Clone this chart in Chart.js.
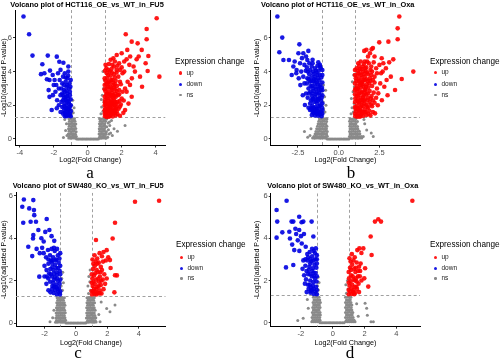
<!DOCTYPE html>
<html><head><meta charset="utf-8">
<script src="https://cdn.jsdelivr.net/npm/chart.js@4.4.1/dist/chart.umd.min.js"></script>
<style>
html,body{margin:0;padding:0;background:#fff;}
body{width:500px;height:360px;position:relative;overflow:hidden;font-family:"Liberation Sans",Arial,sans-serif;}
canvas{position:absolute;}
.ttl{position:absolute;font-weight:bold;font-size:7.4px;line-height:9px;white-space:nowrap;color:#000;}
.lgt{position:absolute;font-size:8.2px;line-height:10px;white-space:nowrap;color:#000;}
.lgi{position:absolute;font-size:6.5px;line-height:8px;white-space:nowrap;color:#222;}
.dot{position:absolute;border-radius:50%;}
.let{position:absolute;width:40px;text-align:center;font-family:"Liberation Serif","Times New Roman",serif;font-size:17px;line-height:17px;color:#000;}
</style></head><body>
<script>
// ---------------- data ----------------
const titles = ['Volcano plot of HCT116_OE_vs_WT_in_FU5','Volcano plot of HCT116_OE_vs_WT_in_Oxa','Volcano plot of SW480_KO_vs_WT_in_FU5','Volcano plot of SW480_KO_vs_WT_in_Oxa'];
const panelLetters = ['a','b','c','d'];
const groupNames = ['up','down','ns'];
const legendTitle = 'Expression change';
const xAxisTitle = 'Log2(Fold Change)';
const yAxisTitle = '-Log10(adjusted P-value)';
const fcCut = [-1, 1];
const pCut = 1.3;
const yTicks = [0, 2, 4, 6];
const xTicksA = [-4, -2, 0, 2, 4];
const xTickLabelsA = ['-4', '-2', '0', '2', '4'];
const xTicksB = [-2.5, 0, 2.5];
const xTickLabelsB = ['-2.5', '0.0', '2.5'];
const xTicksC = [-2, 0, 2, 4];
const xTickLabelsC = ['-2', '0', '2', '4'];
const xTicksD = [-2, 0, 2, 4];
const xTickLabelsD = ['-2', '0', '2', '4'];
const xRangeA = [-4.28, 4.58], yRangeA = [-0.39, 7.66];
const xRangeB = [-4.17, 4.99], yRangeB = [-0.40, 7.66];
const xRangeC = [-3.81, 5.70], yRangeC = [-0.17, 6.15];
const xRangeD = [-3.90, 5.48], yRangeD = [-0.19, 6.13];

// Panel a
const aUp = [[1.02,1.35],[1.08,1.42],[1.15,1.38],[1.22,1.5],[1.3,1.36],[1.38,1.45],[1.47,1.33],[1.55,1.52],[1.65,1.4],[1.75,1.48],[1.9,1.38],[1.05,1.58],[1.18,1.62],[1.32,1.6],[1.44,1.66],[2.1,1.55],
[1.03,1.8],[1.1,1.95],[1.2,1.78],[1.28,1.9],[1.36,1.75],[1.45,1.98],[1.52,1.82],[1.6,1.7],[1.7,1.92],[1.82,1.8],[1.95,2.05],[1.06,2.08],[1.24,2.02],[1.4,2.1],[1.58,2.0],
[1.02,2.3],[1.12,2.45],[1.2,2.25],[1.3,2.55],[1.38,2.35],[1.48,2.6],[1.55,2.3],[1.65,2.5],[1.75,2.2],[1.85,2.65],[2.0,2.4],[1.08,2.62],[1.26,2.68],[1.42,2.15],[1.62,2.7],
[1.04,2.85],[1.14,3.0],[1.22,2.78],[1.32,3.1],[1.4,2.9],[1.5,3.2],[1.6,2.95],[1.72,3.15],[1.85,2.9],[1.95,3.25],[1.1,3.25],[1.28,3.3],[1.45,2.75],[2.05,2.8],
[1.05,3.45],[1.15,3.6],[1.25,3.4],[1.35,3.75],[1.45,3.5],[1.55,3.85],[1.65,3.45],[1.8,3.7],[1.9,3.4],[2.05,3.9],[1.12,3.9],[1.3,4.0],[1.5,3.35],[1.7,3.95],
[1.1,4.2],[1.25,4.45],[1.4,4.15],[1.55,4.3],[1.7,4.1],[1.85,4.5],[2.0,4.25],[2.15,4.6],[1.35,4.7],[1.6,4.6],
[1.0,1.5],[1.12,1.3],[1.25,1.32],[1.4,1.55],[1.6,1.55],[1.7,1.65],[1.0,1.7],[1.14,1.72],[1.32,1.85],[1.5,1.68],[1.66,1.82],[1.0,2.0],[1.16,2.12],[1.34,2.0],[1.5,2.08],[1.7,2.1],[1.02,2.18],[1.18,2.4],[1.35,2.22],[1.5,2.45],[1.6,2.2],[1.0,2.5],[1.15,2.7],[1.36,2.6],[1.55,2.55],[1.7,2.85],[1.0,2.95],[1.2,3.1],[1.38,3.0],[1.55,3.05],[1.0,3.2],[1.18,3.35],[1.38,3.5],[1.6,3.25],[1.0,3.6],[1.2,3.8],[1.42,3.95],[1.6,3.65],[1.02,4.05],[1.2,4.1],[1.45,4.4],[1.75,4.35],[1.05,4.4],[1.9,4.1],[1.78,2.6],[1.88,2.25],
[4.06,7.17],[3.47,6.53],[2.24,6.22],[2.59,5.78],[2.94,5.68],[3.47,5.92],[3.18,5.29],[2.33,5.29],[4.22,3.7],[3.41,4.5],[3.53,4.04],[3.57,4.93],[2.88,4.73],[2.78,4.0],[3.08,3.7],[2.49,3.21],[2.29,2.81],[2.59,2.51],[2.12,2.28],[2.2,1.72],[1.9,1.92],[1.71,4.99],[2.0,5.09],[1.51,4.79],[2.29,4.73],[2.45,4.4],[2.6,3.6],[2.35,3.4],[2.7,4.3],[3.0,4.9],[2.5,4.9],[2.2,3.0],[2.4,2.1],[3.2,3.1],[2.15,4.0]];
const aDown = [[-3.78,7.27],[-3.45,6.22],[-3.25,4.95],[-2.35,4.95],[-2.67,4.44],[-2.75,3.85],[-2.55,3.9],[-2.4,3.55],[-2.25,3.5],[-2.22,4.06],[-2.06,3.8],[-1.82,4.89],[-1.67,4.59],[-1.43,4.53],[-1.14,4.3],[-1.14,4.0],[-2.25,2.5],[-2.12,1.72],[-1.82,1.82],[-2.3,2.9],[-2.0,3.2],[-1.9,2.8],[-1.95,3.5],[-1.75,3.9],[-1.6,4.1],[-1.5,3.3],[-1.7,3.0],[-1.6,2.6],[-1.55,2.2],[-1.45,3.7],[-1.35,3.9],[-1.3,3.4],[-1.25,3.1],[-1.4,2.9],[-1.2,2.7],[-1.3,2.5],[-1.15,2.4],[-1.45,2.3],[-1.35,2.1],[-1.25,2.0],[-1.1,2.1],[-1.5,1.9],[-1.4,1.7],[-1.3,1.8],[-1.2,1.6],[-1.1,1.8],[-1.05,1.5],[-1.15,1.4],[-1.3,1.45],[-1.45,1.5],[-1.6,1.6],[-1.7,2.0],[-1.8,2.3],[-1.2,3.6],[-1.1,3.0],[-1.05,2.6],[-1.35,2.8],[-1.55,3.0],[-1.65,3.5],[-1.85,3.2],[-2.05,2.6],[-1.25,1.35],[-1.05,1.9],[-1.1,1.4],[-1.35,1.55],[-1.22,2.25],[-1.08,3.3],[-1.4,2.45],
[-1.0,1.35],[-1.2,1.5],[-1.35,1.35],[-1.0,1.65],[-1.15,1.7],[-1.25,1.85],[-1.4,1.95],[-1.0,2.0],[-1.12,2.2],[-1.3,2.3],[-1.0,2.35],[-1.2,2.55],[-1.45,2.6],[-1.05,2.8],[-1.25,2.85],[-1.02,3.1],[-1.2,3.2],[-1.4,3.2],[-1.0,3.5],[-1.15,3.75],[-1.3,3.65],[-1.5,2.7]];
const aNs = [[-0.65,0],[-0.57,0],[-0.5,0],[-0.41,0],[-0.33,0],[-0.26,0],[-0.17,0],[-0.09,0],[-0.02,0],[0.07,0],[0.15,0],[0.22,0],[0.31,0],[0.38,0],[0.47,0],[0.55,0],[0.63,0],
[-1.12,0.05],[-1.01,0.04],[-0.9,0.06],[-0.8,0.05],[-0.7,0.04],[-1.08,0.16],[-0.97,0.15],[-0.86,0.17],[-0.76,0.15],[-0.67,0.14],[-1.14,0.3],[-1.03,0.29],[-0.93,0.31],[-0.83,0.3],[-0.72,0.28],[-1.1,0.45],[-0.99,0.44],[-0.88,0.46],[-0.78,0.45],[-0.68,0.43],[-1.13,0.6],[-1.02,0.59],[-0.91,0.61],[-0.8,0.6],[-0.7,0.62],[-1.09,0.75],[-0.97,0.74],[-0.87,0.76],[-0.76,0.75],[-1.12,0.9],[-1.01,0.89],[-0.9,0.91],[-0.79,0.9],[-0.7,0.88],[-1.08,1.05],[-0.96,1.04],[-0.85,1.06],[-0.75,1.05],[-1.1,1.2],[-0.99,1.19],[-0.88,1.21],[-0.78,1.2],[-0.98,1.45],[-0.85,1.55],[-0.93,1.7],[-0.8,1.85],[-0.95,2.0],[-0.88,2.3],
[0.68,0.05],[0.78,0.04],[0.88,0.06],[0.98,0.05],[1.08,0.04],[1.18,0.1],[0.72,0.16],[0.83,0.15],[0.93,0.17],[1.03,0.15],[0.67,0.3],[0.77,0.29],[0.87,0.31],[0.97,0.3],[1.08,0.28],[0.7,0.45],[0.8,0.44],[0.9,0.46],[1.0,0.45],[1.1,0.43],[1.22,0.55],[0.68,0.6],[0.78,0.59],[0.89,0.61],[0.99,0.6],[0.72,0.75],[0.82,0.74],[0.92,0.76],[1.02,0.75],[1.12,0.73],[0.69,0.9],[0.79,0.89],[0.9,0.91],[1.0,0.9],[1.2,0.95],[0.73,1.05],[0.83,1.04],[0.94,1.06],[1.05,1.05],[0.7,1.2],[0.8,1.19],[0.91,1.21],[1.02,1.2],[1.12,1.18],[0.78,1.5],[0.9,1.65],[0.82,1.9],[0.95,2.2],[0.86,2.6],[0.93,3.0],[0.8,2.35],[0.97,3.5],[0.9,4.0],
[-1.43,0.08],[-1.3,0.5],[-1.25,0.9],[-1.35,1.15],[-1.22,0.2],[1.25,0.3],[1.3,0.8],[1.4,1.1],[1.55,0.6],[1.75,0.45],[2.2,0.8],[1.45,0.2],[1.35,0.35],[1.28,1.0]];

// Panel b
const bUp = [[3.72,7.27],[3.62,6.57],[3.62,5.92],[2.49,5.74],[3.05,5.78],[2.02,5.33],[1.57,5.23],[1.92,5.09],[2.64,4.79],[3.35,4.73],[4.58,4.0],[3.87,3.56],[3.46,2.91],[2.74,4.5],[2.94,3.5],[2.43,2.71],[2.23,1.52],[2.2,4.9],[2.5,4.4],[2.9,4.2],[3.1,4.55],[2.6,3.9],[3.2,3.7],[2.8,3.1],[2.55,3.3],[3.0,2.6],[2.65,2.3],[2.4,2.0],[2.7,4.0],[1.8,4.9],[2.1,5.4],[1.7,5.3],
[1.02,1.35],[1.1,1.45],[1.18,1.38],[1.26,1.55],[1.34,1.4],[1.42,1.5],[1.5,1.36],[1.6,1.58],[1.7,1.42],[1.82,1.5],[1.95,1.4],[2.1,1.6],[1.06,1.65],[1.22,1.68],[1.38,1.64],
[1.03,1.8],[1.11,1.95],[1.19,1.78],[1.27,2.1],[1.35,1.88],[1.43,2.2],[1.51,1.95],[1.6,1.75],[1.7,2.05],[1.8,1.85],[1.9,2.2],[2.05,1.95],[2.2,2.15],[1.15,2.25],[1.55,2.28],[1.3,1.72],
[1.02,2.4],[1.1,2.55],[1.18,2.35],[1.26,2.7],[1.34,2.45],[1.42,2.8],[1.5,2.5],[1.6,2.35],[1.7,2.65],[1.8,2.45],[1.9,2.85],[2.02,2.55],[2.15,2.75],[2.3,2.45],[1.14,2.85],[1.46,2.32],[1.65,2.88],
[1.04,3.0],[1.12,3.15],[1.2,2.95],[1.28,3.3],[1.36,3.05],[1.44,3.4],[1.53,3.1],[1.62,2.95],[1.72,3.25],[1.82,3.05],[1.94,3.45],[2.05,3.15],[2.2,3.35],[1.08,3.45],[1.5,3.48],[2.35,3.0],
[1.05,3.6],[1.13,3.75],[1.22,3.55],[1.3,3.9],[1.4,3.65],[1.5,4.0],[1.6,3.7],[1.7,3.55],[1.8,3.85],[1.92,3.6],[2.05,4.0],[2.2,3.7],[1.18,4.05],[1.65,4.05],[2.35,3.9],
[1.1,4.2],[1.25,4.35],[1.4,4.15],[1.55,4.45],[1.7,4.25],[1.85,4.5],[2.0,4.3],[2.15,4.55],[1.35,4.6],[2.3,4.2],
[1.0,1.5],[1.14,1.32],[1.3,1.32],[1.46,1.62],[1.66,1.6],[1.88,1.68],[1.0,1.9],[1.16,1.85],[1.4,1.98],[1.58,2.1],[1.75,1.92],[1.98,2.05],[1.0,2.2],[1.22,2.18],[1.38,2.3],[1.55,2.6],[1.76,2.3],[1.96,2.4],[1.0,2.65],[1.2,2.6],[1.38,2.75],[1.58,2.75],[1.8,2.7],[2.1,2.3],[1.0,2.9],[1.16,3.0],[1.32,3.2],[1.48,3.25],[1.68,3.1],[1.88,3.3],[1.0,3.3],[1.24,3.45],[1.4,3.3],[1.6,3.5],[1.78,3.45],[2.1,3.5],[1.0,3.8],[1.2,3.9],[1.36,3.8],[1.55,3.85],[1.75,3.95],[2.0,3.8],[1.0,4.1],[1.3,4.15],[1.48,4.3],[1.62,4.2],[1.95,4.1],[1.2,4.5],[1.6,4.6],[1.75,4.6]];
const bDown = [[-3.76,7.27],[-3.46,6.02],[-3.64,5.15],[-3.39,4.69],[-3.05,4.69],[-2.41,5.62],[-2.47,5.09],[-1.86,5.23],[-2.17,5.09],[-2.78,4.3],[-2.88,3.8],[-2.58,4.1],[-2.37,4.5],[-2.17,3.7],[-1.92,4.69],[-2.07,2.02],[-1.76,1.72],[-1.15,4.4],[-2.6,3.9],[-2.3,4.0],[-2.45,3.6],[-2.7,4.6],[-2.25,4.8],[-2.0,4.9],[-1.6,4.7],[-2.35,3.2],[-2.2,2.6],[-2.1,3.3],
[-1.05,1.35],[-1.15,1.45],[-1.25,1.38],[-1.35,1.5],[-1.45,1.4],[-1.55,1.55],[-1.65,1.42],[-1.1,1.62],[-1.3,1.66],[-1.5,1.7],
[-1.02,1.85],[-1.12,2.0],[-1.22,1.8],[-1.32,2.1],[-1.42,1.9],[-1.52,2.2],[-1.62,1.95],[-1.75,2.1],[-1.85,1.85],[-1.08,2.25],[-1.28,2.28],[-1.48,1.78],
[-1.04,2.45],[-1.14,2.6],[-1.24,2.4],[-1.34,2.75],[-1.44,2.5],[-1.54,2.85],[-1.64,2.55],[-1.74,2.8],[-1.9,2.45],[-1.1,2.88],[-1.3,2.35],[-1.6,2.35],[-2.0,2.7],
[-1.03,3.05],[-1.13,3.2],[-1.23,2.98],[-1.33,3.35],[-1.43,3.1],[-1.53,3.45],[-1.63,3.15],[-1.75,3.4],[-1.85,3.0],[-1.95,3.3],[-1.18,3.48],[-1.4,3.5],
[-1.06,3.65],[-1.16,3.8],[-1.26,3.6],[-1.36,3.95],[-1.46,3.7],[-1.58,4.0],[-1.68,3.65],[-1.8,3.85],[-1.92,3.6],[-2.02,4.05],[-1.22,4.05],[-1.5,3.55],
[-1.1,4.2],[-1.3,4.35],[-1.45,4.2],[-1.65,4.3],[-1.8,4.5],[-1.95,4.25],[-1.25,4.55],[-2.1,4.4],
[-1.0,1.5],[-1.2,1.55],[-1.4,1.58],[-1.6,1.62],[-1.0,1.7],[-1.18,1.95],[-1.36,1.8],[-1.58,1.85],[-1.7,1.8],[-1.0,2.1],[-1.18,2.4],[-1.38,2.25],[-1.56,2.4],[-1.7,2.3],[-1.0,2.6],[-1.2,2.75],[-1.4,2.65],[-1.6,2.7],[-1.82,2.7],[-1.0,2.9],[-1.18,3.1],[-1.38,2.95],[-1.58,3.0],[-1.72,3.15],[-1.0,3.35],[-1.28,3.25],[-1.48,3.3],[-1.68,3.45],[-1.85,3.55],[-1.0,3.8],[-1.3,3.8],[-1.55,3.85],[-1.75,4.1],[-1.0,4.1],[-1.4,4.05],[-1.9,4.0],[-1.15,4.3],[-1.6,4.5]];
const bNs = [[-0.7,0],[-0.61,0],[-0.53,0],[-0.45,0],[-0.36,0],[-0.27,0],[-0.18,0],[-0.09,0],[0.01,0],[0.09,0],[0.18,0],[0.28,0],[0.36,0],[0.45,0],[0.54,0],[0.63,0],
[-1.6,0.05],[-1.48,0.04],[-1.36,0.06],[-1.24,0.05],[-1.12,0.04],[-1.0,0.06],[-0.88,0.05],[-0.76,0.04],
[-1.52,0.15],[-1.4,0.16],[-1.28,0.14],[-1.16,0.15],[-1.04,0.16],[-0.92,0.14],[-0.8,0.15],[-0.7,0.16],
[-1.45,0.3],[-1.33,0.29],[-1.21,0.31],[-1.09,0.3],[-0.97,0.29],[-0.85,0.31],[-0.74,0.3],
[-1.4,0.45],[-1.28,0.44],[-1.16,0.46],[-1.04,0.45],[-0.92,0.44],[-0.8,0.46],[-0.7,0.45],
[-1.35,0.6],[-1.23,0.59],[-1.11,0.61],[-0.99,0.6],[-0.87,0.59],[-0.75,0.61],
[-1.3,0.75],[-1.18,0.74],[-1.06,0.76],[-0.94,0.75],[-0.82,0.74],[-0.72,0.76],
[-1.26,0.9],[-1.14,0.89],[-1.02,0.91],[-0.9,0.9],[-0.78,0.89],
[-1.22,1.05],[-1.1,1.04],[-0.98,1.06],[-0.86,1.05],[-0.74,1.04],
[-1.18,1.2],[-1.06,1.19],[-0.94,1.21],[-0.82,1.2],[-0.72,1.19],
[-0.98,1.5],[-0.84,1.6],[-0.92,1.8],[-0.78,2.0],[-0.95,2.2],[-0.86,2.5],[-0.8,2.9],[-0.93,3.2],
[-1.76,0.2],[-2.1,0.45],[-1.9,0.1],[-1.7,0.6],
[0.7,0.05],[0.82,0.04],[0.94,0.06],[1.06,0.05],[1.18,0.04],[1.3,0.06],[1.42,0.05],
[0.66,0.15],[0.78,0.16],[0.9,0.14],[1.02,0.15],[1.14,0.16],[1.26,0.14],[1.38,0.15],
[0.7,0.3],[0.82,0.29],[0.94,0.31],[1.06,0.3],[1.18,0.29],[1.3,0.31],
[0.67,0.45],[0.79,0.44],[0.91,0.46],[1.03,0.45],[1.15,0.44],[1.27,0.46],
[0.7,0.6],[0.82,0.59],[0.94,0.61],[1.06,0.6],[1.18,0.59],
[0.68,0.75],[0.8,0.74],[0.92,0.76],[1.04,0.75],[1.16,0.74],
[0.7,0.9],[0.82,0.89],[0.94,0.91],[1.06,0.9],
[0.67,1.05],[0.79,1.04],[0.91,1.06],[1.03,1.05],[1.15,1.04],
[0.7,1.2],[0.82,1.19],[0.94,1.21],[1.06,1.2],
[0.76,1.5],[0.9,1.6],[0.82,1.85],[0.95,2.1],[0.78,2.4],[0.88,2.8],[0.96,3.1],[0.84,3.4],[0.92,3.8],
[1.51,0.14],[2.12,0.14],[1.72,0.53],[1.6,0.9],[2.0,0.35],[1.55,1.15]];

// Panel c
const cUp = [[3.75,5.72],[5.28,5.77],[2.48,4.73],[2.33,3.99],[1.27,3.92],[1.95,3.44],[2.48,2.26],[2.6,2.25],[2.44,1.45],[2.16,2.97],[2.05,3.1],[1.75,3.35],[2.2,2.6],[1.9,2.95],
[1.02,1.35],[1.1,1.5],[1.18,1.38],[1.28,1.6],[1.38,1.42],[1.5,1.55],[1.62,1.4],[1.75,1.6],[1.06,1.75],[1.2,1.85],[1.34,1.7],[1.46,1.95],[1.58,1.8],[1.7,2.05],[1.85,1.85],[1.04,2.1],[1.15,2.25],[1.28,2.05],[1.4,2.4],[1.52,2.2],[1.65,2.5],[1.8,2.3],[1.95,2.1],[1.08,2.55],[1.2,2.7],[1.32,2.5],[1.45,2.85],[1.58,2.65],[1.72,2.9],[1.05,3.0],[1.18,3.2],[1.35,3.05],[1.5,3.3],[1.65,3.15],[1.1,1.95],[1.25,1.45],[1.42,2.1],[1.6,2.0],
[1.0,1.5],[1.15,1.62],[1.3,1.35],[1.45,1.75],[1.0,1.9],[1.22,2.35],[1.0,2.3],[1.36,2.8],[1.1,2.8],[1.55,2.4],[1.5,1.4],[1.25,2.9]];
const cDown = [[-3.31,5.83],[-3.41,5.49],[-2.97,5.41],[-2.71,5.8],[-2.67,5.33],[-2.65,5.09],[-3.35,4.73],[-2.88,4.78],[-2.54,4.78],[-1.86,4.91],[-2.39,4.39],[-3.03,3.6],[-2.78,3.16],[-2.33,2.19],[-2.71,4.15],[-2.73,3.99],[-1.69,4.39],[-1.38,3.88],[-2.2,4.0],[-2.05,3.85],[-1.95,4.3],[-2.5,3.5],[-2.3,3.3],[-1.55,4.1],
[-1.02,1.35],[-1.12,1.48],[-1.22,1.36],[-1.32,1.55],[-1.42,1.42],[-1.52,1.6],[-1.62,1.45],[-1.75,1.55],[-1.08,1.66],[-1.28,1.7],
[-1.04,1.85],[-1.14,2.0],[-1.24,1.82],[-1.34,2.15],[-1.44,1.9],[-1.54,2.2],[-1.64,1.95],[-1.76,2.1],[-1.88,1.85],[-1.2,2.28],[-1.5,1.75],[-2.0,2.2],
[-1.03,2.45],[-1.13,2.6],[-1.23,2.4],[-1.33,2.75],[-1.43,2.5],[-1.53,2.85],[-1.63,2.55],[-1.75,2.8],[-1.87,2.5],[-2.0,2.7],[-1.1,2.85],[-1.4,2.32],
[-1.05,3.05],[-1.15,3.2],[-1.25,3.0],[-1.35,3.4],[-1.45,3.1],[-1.55,3.5],[-1.65,3.2],[-1.78,3.45],[-1.9,3.1],[-2.05,3.3],[-1.2,3.5],[-1.6,2.95],[-2.15,3.55],
[-1.0,1.5],[-1.18,1.62],[-1.38,1.72],[-1.0,2.05],[-1.2,2.1],[-1.4,2.05],[-1.6,2.3],[-1.0,2.3],[-1.25,2.6],[-1.5,2.65],[-1.7,2.35],[-1.0,2.7],[-1.3,2.95],[-1.5,2.95],[-1.0,3.3],[-1.4,3.55],[-1.75,3.0],[-1.85,2.2]];
const cNs = [[-0.64,0],[-0.55,0],[-0.47,0],[-0.37,0],[-0.29,0],[-0.19,0],[-0.11,0],[-0.01,0],[0.08,0],[0.16,0],[0.26,0],[0.34,0],[0.44,0],[0.53,0],[0.62,0],
[-1.3,0.04],[-1.18,0.04],[-1.06,0.05],[-0.94,0.04],[-0.82,0.04],[-0.7,0.05],
[-1.24,0.12],[-1.12,0.12],[-1.0,0.13],[-0.88,0.12],[-0.76,0.12],[-0.66,0.13],
[-1.28,0.24],[-1.16,0.24],[-1.04,0.25],[-0.92,0.24],[-0.8,0.24],[-0.7,0.25],
[-1.22,0.36],[-1.1,0.36],[-0.98,0.37],[-0.86,0.36],[-0.74,0.36],
[-1.26,0.48],[-1.14,0.48],[-1.02,0.49],[-0.9,0.48],[-0.78,0.48],[-0.68,0.49],
[-1.2,0.6],[-1.08,0.6],[-0.96,0.61],[-0.84,0.6],[-0.72,0.6],
[-1.24,0.72],[-1.12,0.72],[-1.0,0.73],[-0.88,0.72],[-0.76,0.72],
[-1.18,0.84],[-1.06,0.84],[-0.94,0.85],[-0.82,0.84],[-0.7,0.84],
[-1.22,0.96],[-1.1,0.96],[-0.98,0.97],[-0.86,0.96],[-0.74,0.96],
[-1.16,1.08],[-1.04,1.08],[-0.92,1.09],[-0.8,1.08],
[-1.2,1.2],[-1.08,1.2],[-0.96,1.21],[-0.84,1.2],[-0.74,1.2],
[-0.98,1.4],[-0.86,1.55],[-0.94,1.75],[-0.8,1.9],[-0.9,2.1],[-0.84,2.4],
[0.68,0.04],[0.8,0.04],[0.92,0.05],[1.04,0.04],[1.16,0.04],[1.28,0.05],
[0.74,0.12],[0.86,0.12],[0.98,0.13],[1.1,0.12],[1.22,0.12],
[0.66,0.24],[0.78,0.24],[0.9,0.25],[1.02,0.24],[1.14,0.24],[1.26,0.25],
[0.72,0.36],[0.84,0.36],[0.96,0.37],[1.08,0.36],[1.2,0.36],
[0.68,0.48],[0.8,0.48],[0.92,0.49],[1.04,0.48],[1.16,0.48],
[0.74,0.6],[0.86,0.6],[0.98,0.61],[1.1,0.6],[1.22,0.6],
[0.68,0.72],[0.8,0.72],[0.92,0.73],[1.04,0.72],[1.16,0.72],
[0.74,0.84],[0.86,0.84],[0.98,0.85],[1.1,0.84],
[0.7,0.96],[0.82,0.96],[0.94,0.97],[1.06,0.96],[1.18,0.96],
[0.76,1.08],[0.88,1.08],[1.0,1.09],[1.12,1.08],
[0.7,1.2],[0.82,1.2],[0.94,1.21],[1.06,1.2],[1.16,1.2],
[0.8,1.4],[0.92,1.55],[0.76,1.75],[0.88,1.95],[0.82,2.2],[0.9,2.5],
[-1.65,0.06],[-1.48,0.25],[-1.4,0.6],[1.95,0.69],[2.16,0.53],[1.53,0.06],[2.48,0.85],[1.45,0.4],[1.6,1.0]];

// Panel d
const dUp = [[5.0,5.78],[2.65,4.79],[2.86,4.9],[3.03,4.79],[2.38,4.08],[2.44,3.21],[2.23,1.71],[1.92,3.52],[1.67,3.52],[1.54,3.44],[2.03,2.58],[1.98,2.1],[1.8,3.3],[1.75,2.8],
[1.0,1.35],[1.1,1.48],[1.2,1.36],[1.3,1.55],[1.4,1.42],[1.52,1.6],[1.65,1.45],[1.05,1.75],[1.22,1.8],[1.38,1.7],[1.5,1.95],[1.62,1.85],[1.02,2.1],[1.15,2.25],[1.3,2.05],[1.42,2.4],[1.58,2.2],[1.72,2.45],[1.08,2.6],[1.22,2.75],[1.35,2.55],[1.5,2.85],[1.65,2.65],[1.05,3.05],[1.2,3.25],[1.38,3.1],[1.12,1.95],[1.28,1.45],[1.46,2.1],[1.8,2.0],[1.0,2.4],[1.3,2.95],
[1.0,1.55],[1.18,1.62],[1.35,1.35],[1.48,1.7],[1.0,1.9],[1.25,2.2],[1.4,2.0],[1.6,2.45],[1.15,2.5],[1.45,2.6],[1.12,2.9],[1.7,2.2]];
const dDown = [[-2.9,5.78],[-3.53,5.34],[-3.49,4.79],[-3.53,4.03],[-3.17,4.28],[-2.94,2.62],[-2.59,4.79],[-2.48,4.79],[-2.11,5.02],[-1.96,4.76],[-1.85,4.79],[-1.33,4.79],[-2.42,3.44],[-2.48,2.73],[-2.73,4.31],[-2.69,3.99],[-2.11,4.39],[-1.81,4.2],[-1.22,4.08],[-1.06,3.52],[-2.3,4.2],[-2.0,4.1],[-2.2,3.9],[-2.55,3.7],[-2.35,4.45],[-1.95,3.75],[-1.7,3.6],[-2.1,3.4],
[-1.0,1.35],[-1.1,1.48],[-1.2,1.36],[-1.3,1.55],[-1.4,1.42],[-1.52,1.6],[-1.64,1.45],[-1.05,1.7],[-1.25,1.75],[-1.45,1.8],[-1.02,1.95],[-1.12,2.1],[-1.22,1.92],[-1.32,2.2],[-1.42,2.0],[-1.55,2.3],[-1.68,2.05],[-1.8,2.25],[-1.08,2.35],[-1.28,2.45],[-1.03,2.6],[-1.15,2.75],[-1.25,2.58],[-1.35,2.9],[-1.47,2.65],[-1.6,2.95],[-1.72,2.7],[-1.85,2.95],[-1.1,3.0],[-1.3,3.15],[-1.45,3.35],[-1.2,3.4],[-1.6,3.25],[-1.0,3.2],[-1.38,1.68],[-1.18,2.2],[-1.5,2.5],[-1.75,1.85],[-1.9,2.55],[-1.4,3.0],
[-1.0,1.55],[-1.2,1.6],[-1.38,1.5],[-1.55,1.8],[-1.0,2.2],[-1.2,2.35],[-1.42,2.3],[-1.65,2.45],[-1.0,2.8],[-1.22,2.95],[-1.42,2.8],[-1.0,3.0],[-1.55,3.1],[-1.12,3.3],[-1.72,3.0],[-1.3,3.5]];
const dNs = [[-0.8,0],[-0.7,0],[-0.61,0],[-0.5,0],[-0.41,0],[-0.3,0],[-0.2,0],[-0.11,0],[0,0],[0.09,0],[0.2,0],[0.29,0],[0.4,0],[0.49,0],[0.6,0],[0.7,0],
[-1.32,0.04],[-1.2,0.04],[-1.08,0.05],[-0.96,0.04],[-0.84,0.04],
[-1.26,0.12],[-1.14,0.12],[-1.02,0.13],[-0.9,0.12],[-0.8,0.12],
[-1.3,0.24],[-1.18,0.24],[-1.06,0.25],[-0.94,0.24],[-0.82,0.24],
[-1.24,0.36],[-1.12,0.36],[-1.0,0.37],[-0.88,0.36],[-0.78,0.36],
[-1.28,0.48],[-1.16,0.48],[-1.04,0.49],[-0.92,0.48],[-0.8,0.48],
[-1.22,0.6],[-1.1,0.6],[-0.98,0.61],[-0.86,0.6],
[-1.26,0.72],[-1.14,0.72],[-1.02,0.73],[-0.9,0.72],[-0.8,0.72],
[-1.2,0.84],[-1.08,0.84],[-0.96,0.85],[-0.84,0.84],
[-1.24,0.96],[-1.12,0.96],[-1.0,0.97],[-0.88,0.96],[-0.78,0.96],
[-1.18,1.08],[-1.06,1.08],[-0.94,1.09],[-0.82,1.08],
[-1.22,1.2],[-1.1,1.2],[-0.98,1.21],[-0.86,1.2],
[-1.0,1.4],[-0.9,1.55],[-0.96,1.75],[-0.86,1.9],[-0.92,2.15],
[0.8,0.04],[0.92,0.04],[1.04,0.05],[1.16,0.04],[1.28,0.04],[1.4,0.05],
[0.86,0.12],[0.98,0.12],[1.1,0.13],[1.22,0.12],[1.34,0.12],
[0.8,0.24],[0.92,0.24],[1.04,0.25],[1.16,0.24],[1.28,0.24],
[0.86,0.36],[0.98,0.36],[1.1,0.37],[1.22,0.36],
[0.8,0.48],[0.92,0.48],[1.04,0.49],[1.16,0.48],[1.26,0.48],
[0.86,0.6],[0.98,0.6],[1.1,0.61],[1.2,0.6],
[0.8,0.72],[0.92,0.72],[1.04,0.73],[1.16,0.72],
[0.86,0.84],[0.98,0.84],[1.1,0.85],[1.2,0.84],
[0.8,0.96],[0.92,0.96],[1.04,0.97],[1.14,0.96],
[0.86,1.08],[0.98,1.08],[1.1,1.09],
[0.8,1.2],[0.92,1.2],[1.04,1.21],[1.14,1.2],
[0.86,1.4],[0.96,1.6],[0.82,1.8],[0.92,2.0],
[-1.54,0.68],[-1.86,0.21],[2.13,0.68],[2.55,0.05],[2.17,0.35],[2.03,0.92],[-1.6,1.1],[1.6,0.3],[1.5,0.9],[2.4,0.05],[-2.2,0.1]];

// ---------------- layout / style ----------------
const FONT = '"Liberation Sans", Arial, sans-serif';
const RED = 'rgba(255,0,0,0.9)', BLUE = 'rgba(0,0,225,0.9)', GREY = '#8a8a8a';
const colors = [RED, BLUE, GREY];
const panels = [
  {ox:0,   oy:0,   up:aUp, down:aDown, ns:aNs, xr:xRangeA, yr:yRangeA, xt:xTicksA, xl:xTickLabelsA, L:15,   R:165.5, T:10,   B:145.5, padL:0,   tx:10.3, ty:4.7, lx:175, ly:62,   iy:[73,84.3,95],      xlabY:160,   letX:90,  letBase:178.3},
  {ox:250, oy:0,   up:bUp, down:bDown, ns:bNs, xr:xRangeB, yr:yRangeB, xt:xTicksB, xl:xTickLabelsB, L:20.7, R:170,   T:10,   B:145.7, padL:2.5, tx:11,   ty:4.3, lx:180, ly:61.7, iy:[72.5,84.3,95],    xlabY:160,   letX:101, letBase:178.3},
  {ox:0,   oy:180, up:cUp, down:cDown, ns:cNs, xr:xRangeC, yr:yRangeC, xt:xTicksC, xl:xTickLabelsC, L:16,   R:165.7, T:12.7, B:146.7, padL:0,   tx:12.7, ty:5.7, lx:176, ly:65,   iy:[77.7,88.3,98.3], xlabY:163.3, letX:78,  letBase:178.3},
  {ox:250, oy:180, up:dUp, down:dDown, ns:dNs, xr:xRangeD, yr:yRangeD, xt:xTicksD, xl:xTickLabelsD, L:20.7, R:170,   T:13.3, B:146.7, padL:2.5, tx:17.3, ty:5.7, lx:180, ly:65,   iy:[77.7,88.3,98.3], xlabY:163.3, letX:100, letBase:178.3}
];

const cutLines = {
  id: 'cutLines',
  beforeDatasetsDraw(chart) {
    const {ctx, chartArea: a, scales: {x, y}} = chart;
    ctx.save();
    ctx.beginPath(); ctx.rect(a.left, a.top, a.right - a.left, a.bottom - a.top); ctx.clip();
    ctx.strokeStyle = '#a0a0a0'; ctx.lineWidth = 1; ctx.setLineDash([3, 2.5]);
    fcCut.forEach(v => { const px = Math.round(x.getPixelForValue(v)) + 0.5; ctx.beginPath(); ctx.moveTo(px, a.top); ctx.lineTo(px, a.bottom); ctx.stroke(); });
    const py = Math.round(y.getPixelForValue(pCut)) + 0.5;
    ctx.beginPath(); ctx.moveTo(a.left, py); ctx.lineTo(a.right, py); ctx.stroke();
    ctx.restore();
  }
};

function addEl(cls, text, left, top, style) {
  const d = document.createElement('div');
  d.className = cls; if (text !== null) d.textContent = text;
  d.style.left = left + 'px'; d.style.top = top + 'px';
  if (style) Object.assign(d.style, style);
  document.body.appendChild(d); return d;
}

panels.forEach((p, i) => {
  const cv = document.createElement('canvas');
  cv.width = 250; cv.height = 180;
  cv.style.left = p.ox + 'px'; cv.style.top = p.oy + 'px';
  cv.style.width = '250px'; cv.style.height = '180px';
  document.body.appendChild(cv);
  const xAxisH = p.xlabY + 4.32 - p.B;
  const toPts = arr => arr.map(([x, y]) => ({x, y}));
  new Chart(cv, {
    type: 'scatter',
    data: { datasets: [
      {label: groupNames[0], data: toPts(p.up),   backgroundColor: RED,  borderWidth: 0, pointRadius: 2.3},
      {label: groupNames[1], data: toPts(p.down), backgroundColor: BLUE, borderWidth: 0, pointRadius: 2.3},
      {label: groupNames[2], data: toPts(p.ns),   backgroundColor: GREY, borderWidth: 0, pointRadius: 1.5}
    ]},
    options: {
      responsive: false, animation: false, events: [],
      layout: {padding: {left: p.padL, top: p.T, right: 250 - p.R, bottom: 180 - p.B - xAxisH}},
      plugins: {legend: {display: false}, tooltip: {enabled: false}, title: {display: false}},
      scales: {
        x: {
          type: 'linear', position: 'bottom', min: p.xr[0], max: p.xr[1],
          afterBuildTicks: s => { s.ticks = p.xt.map(v => ({value: v})); },
          afterFit: s => { s.height = xAxisH; },
          ticks: {callback: v => p.xl[p.xt.indexOf(v)], font: {size: 7.5, family: FONT}, color: '#4d4d4d', padding: 1, maxRotation: 0, autoSkip: false},
          grid: {display: true, drawOnChartArea: false, drawTicks: true, tickLength: 2, color: '#333'},
          border: {display: true, color: '#000', width: 1},
          title: {display: true, text: xAxisTitle, font: {size: 7.2, family: FONT}, color: '#000', padding: 0}
        },
        y: {
          type: 'linear', position: 'left', min: p.yr[0], max: p.yr[1],
          afterBuildTicks: s => { s.ticks = yTicks.map(v => ({value: v})); },
          afterFit: s => { s.width = p.L - p.padL; },
          ticks: {callback: v => String(v), font: {size: 7.5, family: FONT}, color: '#4d4d4d', padding: 1, autoSkip: false},
          grid: {display: true, drawOnChartArea: false, drawTicks: true, tickLength: 2, color: '#333'},
          border: {display: true, color: '#000', width: 1},
          title: {display: true, text: yAxisTitle, font: {size: 7, family: FONT}, color: '#000', padding: 0}
        }
      }
    },
    plugins: [cutLines]
  });
  addEl('ttl', titles[i], p.ox + p.tx, p.oy + p.ty - 4.5);
  addEl('lgt', legendTitle, p.ox + p.lx, p.oy + p.ly - 5);
  groupNames.forEach((g, k) => {
    const sz = k === 2 ? 2.6 : 3.6;
    addEl('dot', null, p.ox + p.lx + 5.7 - sz / 2, p.oy + p.iy[k] - sz / 2, {width: sz + 'px', height: sz + 'px', background: colors[k]});
    addEl('lgi', g, p.ox + p.lx + 11.5, p.oy + p.iy[k] - 4.5);
  });
  addEl('let', panelLetters[i], p.ox + p.letX - 20, p.oy + p.letBase - 14.24);
});
</script>
</body></html>
